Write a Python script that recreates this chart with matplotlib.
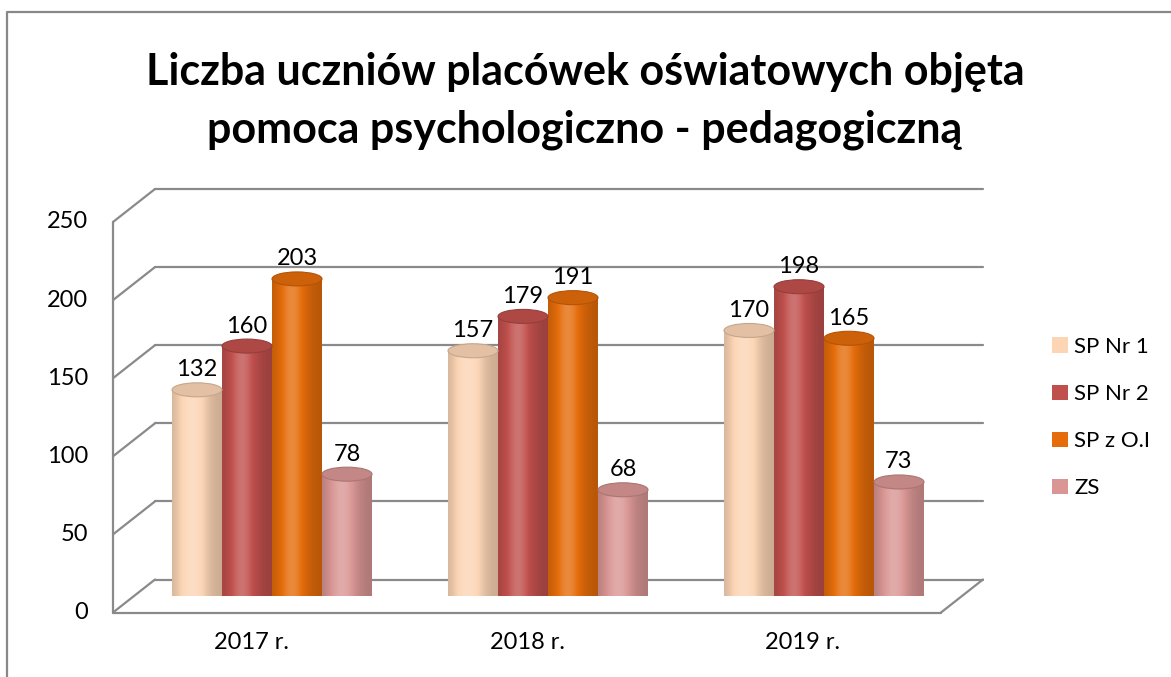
import numpy as np
import matplotlib
matplotlib.use('Agg')
import matplotlib.pyplot as plt
from matplotlib.patches import Ellipse, Patch
from matplotlib.lines import Line2D
from matplotlib.colors import to_rgb

# ---- data ----
categories = ['2017 r.', '2018 r.', '2019 r.']
series_names = ['SP Nr 1', 'SP Nr 2', 'SP z O.I', 'ZS']
sp_nr1 = [132, 157, 170]
sp_nr2 = [160, 179, 198]
sp_zoi = [203, 191, 165]
zs = [78, 68, 73]
series_values = [sp_nr1, sp_nr2, sp_zoi, zs]
y_ticks = [0, 50, 100, 150, 200, 250]
title_lines = ['Liczba uczniów placówek oświatowych objęta',
               'pomoca psychologiczno - pedagogiczną']
colors = ['#FCD5B5', '#C0504D', '#E46C0A', '#D99694']

FONT = 'Lato'
FS = 17
W, H = 1171, 677
fig = plt.figure(figsize=(W / 100, H / 100), dpi=100)
fig.patch.set_facecolor('white')

# axes placed on the middle depth plane of the pseudo-3D box
L, R, T, B = 134, 962, 205.5, 596
ax = fig.add_axes([L / W, 1 - B / H, (R - L) / W, (B - T) / H])
ax.axis('off')
ncat = len(categories)
px_x = (R - L) / ncat
px_y = (B - T) / y_ticks[-1]
DX = 21 / px_x
DY = 16.5 / px_y
xmin, xmax = -0.5, ncat - 0.5

grid_kw = dict(color='#8a8a8a', lw=1.6, clip_on=False, zorder=1, solid_capstyle='round')
# back wall gridlines + left wall diagonals
for t in y_ticks:
    ax.plot([xmin + DX, xmax + DX], [t + DY, t + DY], **grid_kw)
    ax.plot([xmin - DX, xmin + DX], [t - DY, t + DY], **grid_kw)
    ax.text(xmin - DX - 25 / px_x, t - DY, str(t), ha='right', va='center',
            fontsize=FS, family=FONT, color='black')
# left wall front edge
ax.plot([xmin - DX, xmin - DX], [-DY, y_ticks[-1] - DY], **grid_kw)
# floor front edge and right diagonal
ax.plot([xmin - DX, xmax - DX], [-DY, -DY], **grid_kw)
ax.plot([xmax - DX, xmax + DX], [-DY, DY], **grid_kw)

# category labels on the front plane
for i, c in enumerate(categories):
    ax.text(i - DX, -DY - 30 / px_y, c, ha='center', va='center',
            fontsize=FS, family=FONT, color='black')


def gradient(col, n=80):
    c = np.array(to_rgb(col))
    t = np.linspace(0, 1, n)
    f = 0.80 + 0.30 * np.exp(-((t - 0.4) / 0.32) ** 2)
    out = np.empty((1, n, 3))
    for k in range(n):
        if f[k] < 1:
            out[0, k] = c * f[k]
        else:
            out[0, k] = c + (1 - c) * min(1, (f[k] - 1) * 2.0)
    return np.clip(out, 0, 1)


nser = len(series_names)
bw = 50 / px_x
eh = 14 / px_y
for j, (vals, col) in enumerate(zip(series_values, colors)):
    xs = np.arange(ncat) + (j - (nser - 1) / 2) * bw
    bars = ax.bar(xs, vals, width=bw, color=col, zorder=3, linewidth=0)
    grad = gradient(col)
    base = np.array(to_rgb(col))
    for rect, x, v in zip(bars, xs, vals):
        x0, x1 = x - bw / 2, x + bw / 2
        im = ax.imshow(grad, extent=(x0, x1, 0, v), aspect='auto',
                       interpolation='bilinear', zorder=4)
        im.set_clip_path(rect)
        bottom = Ellipse((x, 0), bw, eh, transform=ax.transData)
        im2 = ax.imshow(grad, extent=(x0, x1, -eh / 2, 0), aspect='auto',
                        interpolation='bilinear', zorder=4)
        im2.set_clip_path(bottom)
        top = Ellipse((x, v), bw, eh, facecolor=base * 0.9,
                      edgecolor=base * 0.78, lw=0.8, zorder=5)
        ax.add_patch(top)
        ax.text(x, v + 20 / px_y, str(v), ha='center', va='center',
                fontsize=FS, family=FONT, color='black', zorder=6)

ax.set_xlim(xmin, xmax)
ax.set_ylim(0, y_ticks[-1])

# title
fig.text(585 / W, 1 - 72 / H, title_lines[0], ha='center', va='center',
         fontsize=31, fontweight='bold', family=FONT)
fig.text(585 / W, 1 - 130 / H, title_lines[1], ha='center', va='center',
         fontsize=31, fontweight='bold', family=FONT)

# legend
handles = [Patch(facecolor=c, edgecolor='none') for c in colors]
fig.legend(handles, series_names, loc='upper left',
           bbox_to_anchor=(1052 / W, 1 - 337 / H), frameon=False,
           prop={'family': FONT, 'size': 16}, handlelength=0.7,
           handleheight=0.7, handletextpad=0.3, labelspacing=1.22,
           borderaxespad=0, borderpad=0)

# outer chart border
fig.add_artist(Line2D([7 / W, 7 / W, 1.0], [0.0, 1 - 12 / H, 1 - 12 / H],
                      transform=fig.transFigure, color='#888888', lw=1.6))

fig.savefig('out.png', dpi=100, facecolor='white')
